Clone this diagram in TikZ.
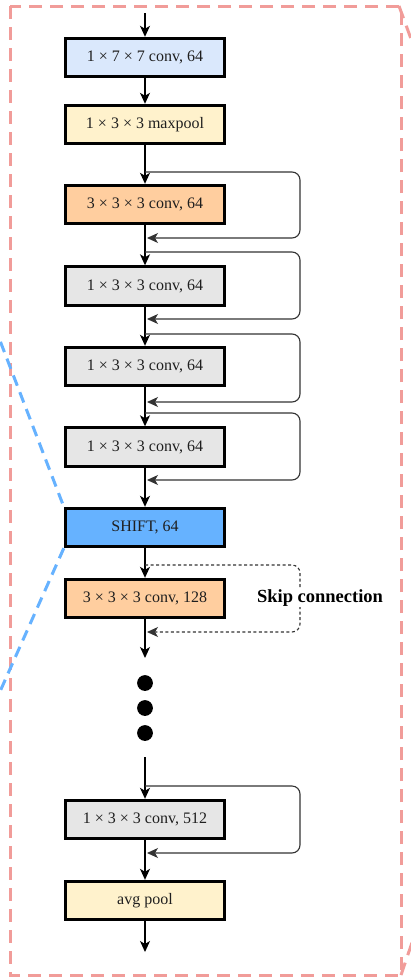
\documentclass[tikz,border=0pt]{standalone}
\usepackage{fontspec}
\setmainfont{Liberation Serif}
\usetikzlibrary{arrows.meta}
\definecolor{pinkd}{HTML}{F19C99}
\definecolor{blued}{HTML}{66B2FF}
\definecolor{fblue}{HTML}{DAE8FC}
\definecolor{fyellow}{HTML}{FFF2CC}
\definecolor{forange}{HTML}{FFCE9F}
\definecolor{fgray}{HTML}{E6E6E6}
\definecolor{fshift}{HTML}{66B2FF}
\tikzset{
  box/.style={draw=black, line width=2.9pt, minimum width=159.5pt, minimum height=38.5pt,
    inner sep=0pt, text=black!88, font=\fontsize{16}{19}\selectfont},
  flow/.style={draw=black, line width=1.3pt, -{Stealth[length=11pt,width=10pt,inset=3pt]}},
  skiploop/.style={draw=black!80, line width=1.1pt, rounded corners=8pt,
    -{Stealth[length=11pt,width=10pt,inset=3pt]}},
  dotloop/.style={skiploop, dash pattern=on 3pt off 2.5pt},
  dotnode/.style={circle, fill=black, inner sep=0pt, minimum size=15.8pt},
  frame/.style={draw=pinkd, line width=3pt, dash pattern=on 13pt off 8pt},
  zoomline/.style={draw=blued, line width=3pt, dash pattern=on 11pt off 7pt}
}
\begin{document}
\begin{tikzpicture}[x=1pt,y=-1pt]
\useasboundingbox (0,0) rectangle (411,980);
\clip (0,0) rectangle (411,980);
\fill[white] (0,0) rectangle (411,980);

% frame
\draw[frame] (10,6) rectangle (401,975);
\coordinate (fr1) at (399,6);
\coordinate (fr2) at (418,58);
\coordinate (fr3) at (401,975);
\coordinate (fr4) at (418,925);
\draw[frame] (fr1) -- (fr2);
\draw[frame] (fr3) -- (fr4);

% boxes
\node[box, fill=fblue]   (b1)  at (145,57.5)  {1 × 7 × 7 conv, 64};
\node[box, fill=fyellow] (b2)  at (145,124.5) {1 × 3 × 3 maxpool};
\node[box, fill=forange] (b3)  at (145,204.5) {3 × 3 × 3 conv, 64};
\node[box, fill=fgray]   (g1)  at (145,286)   {1 × 3 × 3 conv, 64};
\node[box, fill=fgray]   (g2)  at (145,366.5) {1 × 3 × 3 conv, 64};
\node[box, fill=fgray]   (g3)  at (145,447)   {1 × 3 × 3 conv, 64};
\node[box, fill=fshift]  (sh)  at (145,527.5) {SHIFT, 64};
\node[box, fill=forange] (o128) at (145,598.5) {3 × 3 × 3 conv, 128};
\node[box, fill=fgray]   (g512) at (145,819.5) {1 × 3 × 3 conv, 512};
\node[box, fill=fyellow] (avg) at (145,900.5) {avg pool};

% dots
\node[dotnode] (d1) at (145,683) {};
\node[dotnode] (d2) at (145,708) {};
\node[dotnode] (d3) at (145,733) {};

% blue zoom lines
\coordinate (bz1) at (-6,325);
\coordinate (bz2) at (-6,705);
\draw[zoomline] (bz1) -- (sh.north west);
\draw[zoomline] (sh.south west) -- (bz2);

% main flow
\coordinate (in) at (145,13);
\coordinate (out1) at (145,658);
\coordinate (in2) at (145,757);
\coordinate (out) at (145,952);
\draw[flow] (in) -- (b1.north);
\draw[flow] (b1.south) -- (b2.north);
\draw[flow] (b2.south) -- (b3.north);
\draw[flow] (b3.south) -- (g1.north);
\draw[flow] (g1.south) -- (g2.north);
\draw[flow] (g2.south) -- (g3.north);
\draw[flow] (g3.south) -- (sh.north);
\draw[flow] (sh.south) -- (o128.north);
\draw[flow] (o128.south) -- (out1);
\draw[flow] (in2) -- (g512.north);
\draw[flow] (g512.south) -- (avg.north);
\draw[flow] (avg.south) -- (out);

% skip loops
\coordinate (s1) at (145,172); \coordinate (e1) at (147,238);
\coordinate (s2) at (145,252); \coordinate (e2) at (147,319);
\coordinate (s3) at (145,334); \coordinate (e3) at (147,402);
\coordinate (s4) at (145,413); \coordinate (e4) at (147,480);
\coordinate (s5) at (145,565); \coordinate (e5) at (147,632);
\coordinate (s6) at (145,786); \coordinate (e6) at (147,853);
\draw[skiploop] (s1) -- (300,172) -- (300,238) -- (e1);
\draw[skiploop] (s2) -- (300,252) -- (300,319) -- (e2);
\draw[skiploop] (s3) -- (300,334) -- (300,402) -- (e3);
\draw[skiploop] (s4) -- (300,413) -- (300,480) -- (e4);
\draw[dotloop]  (s5) -- (300,565) -- (300,632) -- (e5);
\draw[skiploop] (s6) -- (300,786) -- (300,853) -- (e6);

% label
\node[fill=white, inner sep=1pt, font=\fontsize{18.5}{22}\selectfont\bfseries] (lbl) at (320,598) {Skip connection};
\end{tikzpicture}
\end{document}
